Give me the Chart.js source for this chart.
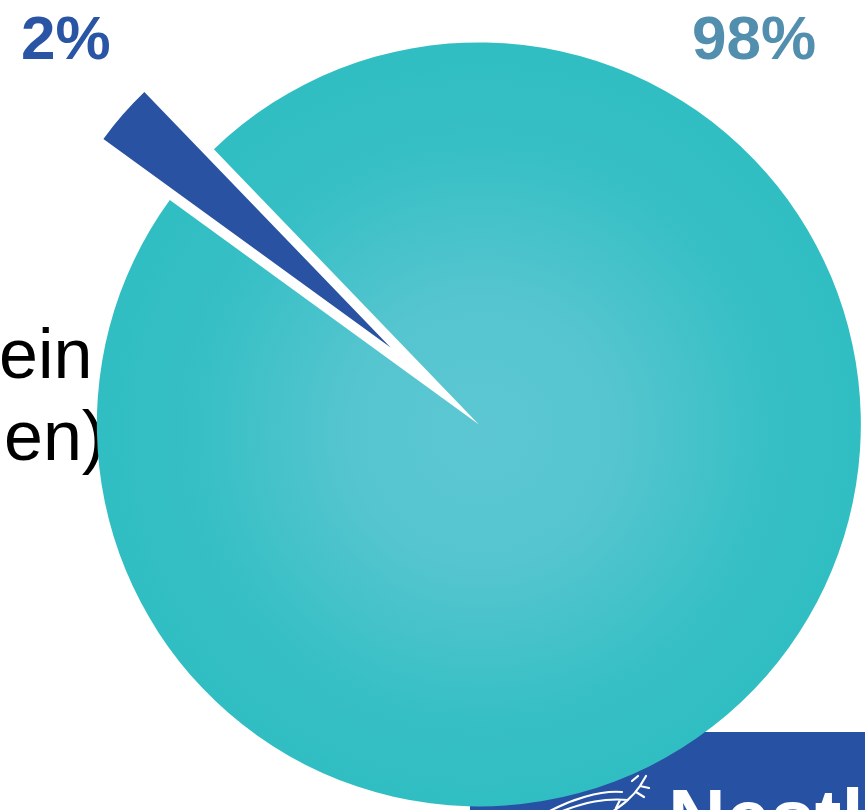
<!DOCTYPE html>
<html>
<head>
<meta charset="utf-8">
<script src="https://cdn.jsdelivr.net/npm/chart.js@4.4.1/dist/chart.umd.min.js"></script>
<style>
  html, body { margin: 0; padding: 0; background: #ffffff; }
  #wrap { width: 865px; height: 810px; position: relative; overflow: hidden; }
</style>
</head>
<body>
<div id="wrap"><canvas id="c" width="865" height="810"></canvas></div>
<script>
// ---- data ----
const categories = ['Protein', 'Andere'];
const values = [2.8, 97.2];
const percentLabels = ['2%', '98%'];
const sliceColors = ['#2a52a3', '#31bfc3'];
const labelColors = ['#2a55a5', '#528faf'];
// side caption (mostly hidden behind the pie): [hidden prefix, visible tail]
const sideLine1 = ['Prot', 'ein'];
const sideLine2 = ['(Portion', 'en)'];
const logoText = 'Nestlé';

// explode distances (px) and radii per slice
const explode = [92, 25];
const sliceRadii = [355, 382];

const backdrop = {
  id: 'backdrop',
  beforeDraw(chart) {
    const ctx = chart.ctx;
    ctx.save();
    ctx.fillStyle = '#ffffff';
    ctx.fillRect(0, 0, chart.width, chart.height);
    ctx.fillStyle = '#000000';
    ctx.font = '70px "Liberation Sans", Arial, sans-serif';
    ctx.textAlign = 'left';
    ctx.textBaseline = 'alphabetic';
    const w1 = ctx.measureText(sideLine1[0]).width;
    ctx.fillText(sideLine1.join(''), -1 - w1, 378);
    const w2 = ctx.measureText(sideLine2[0]).width;
    ctx.fillText(sideLine2.join(''), 4 - w2, 460);
    ctx.fillStyle = '#2752a4';
    ctx.fillRect(470, 732, 395, 78);
    ctx.fillStyle = '#ffffff';
    ctx.font = 'bold 80px "Liberation Sans", Arial, sans-serif';
    ctx.fillText(logoText, 668, 845);
    ctx.strokeStyle = '#ffffff';
    ctx.lineWidth = 2.2;
    ctx.lineCap = 'round';
    ctx.beginPath();
    ctx.moveTo(548, 812); ctx.bezierCurveTo(570, 800, 600, 790, 622, 792);
    ctx.moveTo(560, 812); ctx.bezierCurveTo(585, 802, 605, 798, 628, 800);
    ctx.moveTo(612, 812); ctx.bezierCurveTo(622, 805, 632, 798, 640, 786);
    ctx.moveTo(640, 786); ctx.lineTo(646, 776);
    ctx.moveTo(640, 786); ctx.lineTo(649, 788);
    ctx.moveTo(636, 792); ctx.lineTo(644, 797);
    ctx.moveTo(632, 781); ctx.lineTo(638, 776);
    ctx.moveTo(620, 800); ctx.lineTo(616, 808);
    ctx.stroke();
    ctx.restore();
  }
};

const explodePlugin = {
  id: 'explodePlugin',
  afterDatasetsUpdate(chart) {
    const arcs = chart.getDatasetMeta(0).data;
    arcs.forEach((arc, i) => {
      const mid = (arc.startAngle + arc.endAngle) / 2;
      arc.x += Math.cos(mid) * explode[i];
      arc.y += Math.sin(mid) * explode[i];
      arc.outerRadius = sliceRadii[i];
    });
  }
};

const pctLabels = {
  id: 'pctLabels',
  afterDraw(chart) {
    const ctx = chart.ctx;
    ctx.save();
    ctx.font = 'bold 62px "Liberation Sans", Arial, sans-serif';
    ctx.textBaseline = 'alphabetic';
    ctx.textAlign = 'left';
    ctx.fillStyle = labelColors[0];
    ctx.fillText(percentLabels[0], 21, 59);
    ctx.fillStyle = labelColors[1];
    ctx.fillText(percentLabels[1], 692, 59);
    ctx.restore();
  }
};

new Chart(document.getElementById('c'), {
  type: 'pie',
  data: {
    labels: categories,
    datasets: [{
      data: values,
      backgroundColor: (c) => {
        if (c.dataIndex === 0) return sliceColors[0];
        const chart = c.chart, a = chart.chartArea;
        if (!a) return sliceColors[1];
        const cx = (a.left + a.right) / 2 + 22, cy = (a.top + a.bottom) / 2 + 24;
        const g = chart.ctx.createRadialGradient(cx, cy, 0, cx, cy, 385);
        g.addColorStop(0, '#5cc7d2');
        g.addColorStop(0.35, '#55c5cf');
        g.addColorStop(0.75, '#36bfc5');
        g.addColorStop(1, '#30bec2');
        return g;
      },
      borderWidth: 0
    }]
  },
  options: {
    responsive: false,
    animation: false,
    rotation: -54,
    radius: 382,
    layout: { padding: { left: 55, top: 6, right: 0, bottom: 0 } },
    plugins: { legend: { display: false }, tooltip: { enabled: false } }
  },
  plugins: [backdrop, explodePlugin, pctLabels]
});
</script>
</body>
</html>
